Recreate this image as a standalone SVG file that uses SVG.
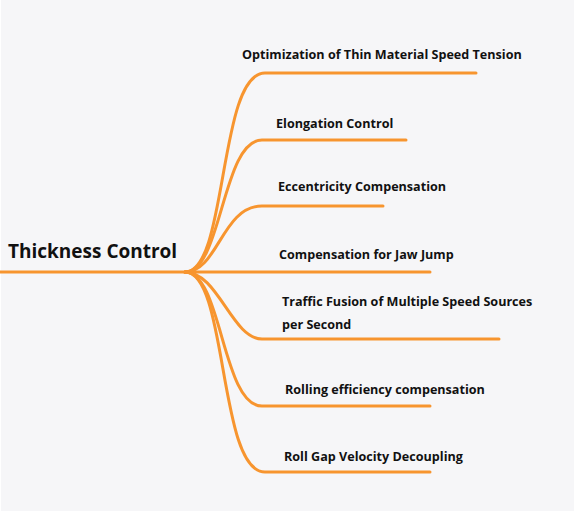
<svg xmlns="http://www.w3.org/2000/svg" width="576" height="514" viewBox="0 0 576 514">
<style>
.c{fill:none;stroke:#f7952f;stroke-width:3;stroke-linecap:round}
.t{font-family:"Open Sans","Noto Sans","Liberation Sans",sans-serif;font-weight:bold;font-size:12.6px;fill:#111}
.r{font-family:"Open Sans","Noto Sans","Liberation Sans",sans-serif;font-weight:bold;font-size:19px;fill:#111}
</style>
<rect x="0" y="0" width="576" height="514" fill="#ffffff"/>
<rect x="1" y="0" width="573" height="511" fill="#f6f6f8"/>
<g id="connectors">
<path class="c" d="M0,272 H430"/>
<path class="c" d="M185,272 C228,272 218,73 265,73 H476"/>
<path class="c" d="M185,272 C222,272 222,140 262,140 H406"/>
<path class="c" d="M185,272 C218,272 222,206 262,206 H383"/>
<path class="c" d="M185,272 C218,272 232,339 262,339 H499"/>
<path class="c" d="M185,272 C222,272 222,406 262,406 H430"/>
<path class="c" d="M185,272 C228,272 218,472 265,472 H430"/>
</g>
<g id="root"><text class="r" x="8" y="258">Thickness Control</text></g>
<g id="n1"><text class="t" x="242" y="59">Optimization of Thin Material Speed Tension</text></g>
<g id="n2"><text class="t" x="276" y="128">Elongation Control</text></g>
<g id="n3"><text class="t" x="278" y="191">Eccentricity Compensation</text></g>
<g id="n4"><text class="t" x="279" y="259">Compensation for Jaw Jump</text></g>
<g id="n5"><text class="t" x="282" y="306">Traffic Fusion of Multiple Speed Sources</text><text class="t" x="282" y="329">per Second</text></g>
<g id="n6"><text class="t" x="285" y="394">Rolling efficiency compensation</text></g>
<g id="n7"><text class="t" x="284" y="461">Roll Gap Velocity Decoupling</text></g>
</svg>
